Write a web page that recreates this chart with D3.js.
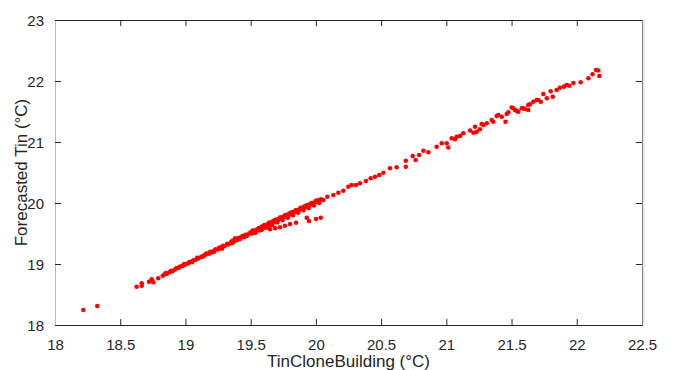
<!DOCTYPE html>
<html><head><meta charset="utf-8">
<script src="https://cdn.jsdelivr.net/npm/d3@7"></script>
<style>body{margin:0;background:#fff}svg{display:block}text{font-family:Arial,"Liberation Sans",Helvetica,sans-serif;fill:#262626}</style>
</head><body>
<svg id="c" width="673" height="370"></svg>
<script>
const xTicks = [18, 18.5, 19, 19.5, 20, 20.5, 21, 21.5, 22, 22.5];
const yTicks = [18, 19, 20, 21, 22, 23];
const xLabel = "TinCloneBuilding (°C)";
const yLabel = "Forecasted Tin (°C)";

const tinClone = [
18.217,18.324,18.626,18.665,18.665,18.721,18.741,18.754,18.792,18.826,
18.84,18.85,18.86,18.88,18.89,18.90,18.92,18.93,18.95,18.96,18.98,18.99,19.00,19.02,19.03,19.05,19.06,19.08,19.09,19.10,
19.12,19.13,19.15,19.16,19.18,19.19,19.20,19.22,19.23,19.25,19.26,19.28,19.29,19.30,19.32,19.33,19.35,19.36,19.37,19.38,
19.40,19.41,19.42,19.44,19.45,19.46,19.47,19.49,19.50,19.51,19.52,19.53,19.54,19.55,19.56,19.57,19.58,19.59,19.60,19.61,
19.62,19.63,19.64,19.65,19.66,19.67,19.68,19.69,19.70,19.71,19.72,19.73,19.74,19.75,19.76,19.77,19.78,19.79,19.80,19.81,
19.82,19.83,19.84,19.85,19.86,19.87,19.88,19.89,19.90,19.91,19.92,19.93,19.94,19.95,19.96,19.97,19.98,19.99,20.00,20.01,
20.02,20.03,20.04,
19.355,19.395,19.435,19.475,19.515,19.535,19.565,19.585,19.605,19.625,19.645,19.665,19.685,19.705,19.725,19.745,19.765,
19.785,19.805,19.825,19.845,19.865,19.885,19.905,19.925,19.945,19.965,19.985,20.005,20.025,19.05,19.14,19.22,19.28,
19.648,19.687,19.725,19.763,19.802,19.848,19.930,19.947,20.001,20.037,
20.057,20.088,20.134,20.172,20.210,20.249,20.274,20.308,20.338,20.384,20.420,20.453,20.486,20.517,
20.568,20.619,20.689,20.689,20.742,20.765,20.791,20.824,20.862,20.926,20.965,21.003,21.015,21.041,21.067,21.080,
21.105,21.130,21.182,21.207,21.220,21.233,21.258,21.271,21.284,21.310,21.348,21.360,21.386,21.399,21.425,21.454,
21.463,21.475,21.501,21.514,21.527,21.540,21.552,21.578,21.590,21.603,21.628,21.628,21.641,21.667,21.693,21.705,
21.724,21.744,21.770,21.800,21.816,21.846,21.871,21.902,21.923,21.943,21.974,22.030,22.089,22.121,22.148,22.165,22.173
];
const forecastTin = [
18.246,18.311,18.628,18.684,18.644,18.710,18.749,18.700,18.766,18.808,
18.83,18.85,18.84,18.87,18.89,18.88,18.91,18.93,18.94,18.96,18.97,19.00,18.99,19.01,19.03,19.04,19.06,19.07,19.10,19.09,
19.12,19.12,19.15,19.17,19.17,19.20,19.19,19.22,19.24,19.24,19.27,19.28,19.30,19.29,19.33,19.32,19.36,19.38,19.36,19.42,
19.41,19.43,19.41,19.46,19.44,19.48,19.46,19.50,19.52,19.50,19.54,19.55,19.53,19.57,19.58,19.55,19.60,19.62,19.59,19.63,
19.61,19.65,19.67,19.64,19.68,19.70,19.69,19.71,19.73,19.72,19.74,19.76,19.75,19.77,19.79,19.78,19.80,19.82,19.81,19.83,
19.85,19.84,19.86,19.88,19.87,19.89,19.91,19.90,19.92,19.94,19.93,19.95,19.97,19.96,19.98,20.00,19.99,20.01,20.03,20.02,
20.04,20.05,20.06,
19.34,19.39,19.45,19.48,19.55,19.51,19.59,19.56,19.64,19.60,19.68,19.64,19.72,19.68,19.76,19.72,19.80,
19.76,19.84,19.80,19.88,19.84,19.92,19.88,19.96,19.92,20.00,19.96,20.04,20.00,19.03,19.13,19.20,19.25,
19.569,19.585,19.602,19.628,19.656,19.677,19.759,19.705,19.738,19.759,
20.049,20.103,20.131,20.169,20.202,20.267,20.295,20.295,20.323,20.361,20.405,20.431,20.459,20.497,
20.569,20.585,20.693,20.595,20.770,20.705,20.787,20.857,20.831,20.923,20.979,20.979,20.910,21.061,21.044,21.087,
21.098,21.143,21.189,21.152,21.251,21.169,21.208,21.295,21.279,21.307,21.361,21.333,21.426,21.443,21.415,21.333,
21.459,21.487,21.566,21.552,21.525,21.508,21.497,21.552,21.552,21.541,21.525,21.607,21.618,21.661,21.689,21.689,
21.661,21.787,21.716,21.831,21.743,21.852,21.890,21.907,21.934,21.923,21.967,21.979,22.044,22.110,22.180,22.172,22.082
];

const W = 673, H = 370;
const m = {left: 55, right: 642, top: 20, bottom: 325};
const svg = d3.select("#c");
const x = d3.scaleLinear().domain([18, 22.5]).range([m.left, m.right]);
const y = d3.scaleLinear().domain([18, 23]).range([m.bottom, m.top]);
const axCol = "#262626";

const data = tinClone.map((v, i) => [v, forecastTin[i]]);
svg.append("g").selectAll("circle").data(data).join("circle")
  .attr("cx", d => x(d[0])).attr("cy", d => y(d[1])).attr("r", 2.3).attr("fill", "#ff0000");

const gx = svg.append("g").attr("transform", `translate(0,${m.bottom})`)
  .call(d3.axisBottom(x).tickValues(xTicks).tickSize(-6).tickPadding(14).tickFormat(d3.format("")));
const gxt = svg.append("g").attr("transform", `translate(0,${m.top})`)
  .call(d3.axisTop(x).tickValues(xTicks).tickSize(-6).tickFormat(""));
const gy = svg.append("g").attr("transform", `translate(${m.left},0)`)
  .call(d3.axisLeft(y).tickValues(yTicks).tickSize(-6).tickPadding(11).tickFormat(d3.format("")));
const gyr = svg.append("g").attr("transform", `translate(${m.right},0)`)
  .call(d3.axisRight(y).tickValues(yTicks).tickSize(-6).tickFormat(""));

[gx, gxt, gy, gyr].forEach(g => {
  g.selectAll(".tick line").attr("stroke", axCol);
  g.select(".domain").attr("stroke", axCol);
  g.selectAll("text").attr("font-size", 15).attr("fill", axCol)
    .style("font-family", "Arial, 'Liberation Sans', sans-serif");
});
gy.select(".domain").attr("stroke", "#b8b8b8");
gx.selectAll(".tick text").attr("dy", "0.71em");
gy.selectAll(".tick text").attr("dy", "0.34em");
svg.append("rect").attr("x", m.right + 0.5).attr("y", m.top).attr("width", 2).attr("height", m.bottom - m.top)
  .attr("fill", "#e4e4e4");

svg.append("text").attr("x", (m.left + m.right) / 2).attr("y", 367).attr("text-anchor", "middle")
  .attr("font-size", 17).attr("fill", axCol).text(xLabel);
svg.append("text").attr("transform", `translate(27,${(m.top + m.bottom) / 2}) rotate(-90)`)
  .attr("text-anchor", "middle").attr("font-size", 17).attr("fill", axCol).text(yLabel);
</script>
</body></html>
